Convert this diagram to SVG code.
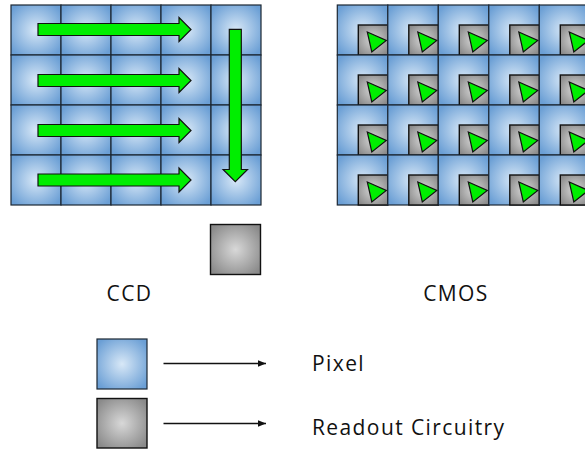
<svg xmlns="http://www.w3.org/2000/svg" xmlns:xlink="http://www.w3.org/1999/xlink" width="585" height="450" viewBox="0 0 585 450">
  <style>
    .pixel { fill: url(#pixelGrad); stroke: #1c2733; stroke-width: 1.2; }
    .readout { fill: url(#readoutGrad); stroke: #111; stroke-width: 1.4; }
    .flow { fill: #00ee00; stroke: #111; stroke-width: 1.2; stroke-linejoin: miter; }
    .label { font-family: "Open Sans", "Liberation Sans", sans-serif; font-size: 21px; letter-spacing: 1.4px; fill: #111; }
    .link { stroke: #111; stroke-width: 1.3; fill: none; }
  </style>
  <defs>
    <radialGradient id="pixelGrad" cx="0.5" cy="0.5" r="0.62">
      <stop offset="0" stop-color="#d8e8f7"/>
      <stop offset="1" stop-color="#6b9fd5"/>
    </radialGradient>
    <radialGradient id="readoutGrad" cx="0.5" cy="0.5" r="0.62">
      <stop offset="0" stop-color="#d8d8d8"/>
      <stop offset="1" stop-color="#8a8a8a"/>
    </radialGradient>
    <marker id="arrowHead" viewBox="0 0 10 8" refX="10" refY="4" markerWidth="8" markerHeight="6.4" markerUnits="userSpaceOnUse" orient="auto">
      <path d="M0,0 L10,4 L0,8 Z" fill="#111"/>
    </marker>
    <!-- CCD pixel cell -->
    <rect id="ccdCell" class="pixel" width="50" height="50"/>
    <!-- CMOS cell: pixel with its own readout block and amplifier -->
    <g id="cmosCell">
      <rect class="pixel" width="50.5" height="50"/>
      <rect class="readout" x="21" y="20" width="29.5" height="30"/>
      <polygon class="flow" points="30,27 49,35.5 34.5,47"/>
    </g>
    <!-- horizontal transfer arrow, tip at origin -->
    <polygon id="hArrow" class="flow" points="-153,-6 -12,-6 -12,-12 0,0 -12,12 -12,6 -153,6"/>
  </defs>

  <!-- CCD sensor -->
  <g id="ccd">
    <g id="ccd-grid">
      <use xlink:href="#ccdCell" x="11" y="5"/><use xlink:href="#ccdCell" x="61" y="5"/><use xlink:href="#ccdCell" x="111" y="5"/><use xlink:href="#ccdCell" x="161" y="5"/><use xlink:href="#ccdCell" x="211" y="5"/>
      <use xlink:href="#ccdCell" x="11" y="55"/><use xlink:href="#ccdCell" x="61" y="55"/><use xlink:href="#ccdCell" x="111" y="55"/><use xlink:href="#ccdCell" x="161" y="55"/><use xlink:href="#ccdCell" x="211" y="55"/>
      <use xlink:href="#ccdCell" x="11" y="105"/><use xlink:href="#ccdCell" x="61" y="105"/><use xlink:href="#ccdCell" x="111" y="105"/><use xlink:href="#ccdCell" x="161" y="105"/><use xlink:href="#ccdCell" x="211" y="105"/>
      <use xlink:href="#ccdCell" x="11" y="155"/><use xlink:href="#ccdCell" x="61" y="155"/><use xlink:href="#ccdCell" x="111" y="155"/><use xlink:href="#ccdCell" x="161" y="155"/><use xlink:href="#ccdCell" x="211" y="155"/>
    </g>
    <g id="ccd-transfer">
      <use xlink:href="#hArrow" x="191" y="29.5"/>
      <use xlink:href="#hArrow" x="191" y="80.5"/>
      <use xlink:href="#hArrow" x="191" y="130.5"/>
      <use xlink:href="#hArrow" x="191" y="180"/>
      <polygon class="flow" points="229.3,29.3 241.3,29.3 241.3,169.5 247.5,169.5 235.3,181.7 223.1,169.5 229.3,169.5"/>
    </g>
    <rect id="ccd-readout" class="readout" x="210.5" y="224.5" width="50" height="50"/>
    <text class="label" x="129.5" y="301" text-anchor="middle">CCD</text>
  </g>

  <!-- CMOS sensor -->
  <g id="cmos">
    <g id="cmos-grid">
      <use xlink:href="#cmosCell" x="337.3" y="5"/><use xlink:href="#cmosCell" x="387.8" y="5"/><use xlink:href="#cmosCell" x="438.3" y="5"/><use xlink:href="#cmosCell" x="488.8" y="5"/><use xlink:href="#cmosCell" x="539.3" y="5"/>
      <use xlink:href="#cmosCell" x="337.3" y="55"/><use xlink:href="#cmosCell" x="387.8" y="55"/><use xlink:href="#cmosCell" x="438.3" y="55"/><use xlink:href="#cmosCell" x="488.8" y="55"/><use xlink:href="#cmosCell" x="539.3" y="55"/>
      <use xlink:href="#cmosCell" x="337.3" y="105"/><use xlink:href="#cmosCell" x="387.8" y="105"/><use xlink:href="#cmosCell" x="438.3" y="105"/><use xlink:href="#cmosCell" x="488.8" y="105"/><use xlink:href="#cmosCell" x="539.3" y="105"/>
      <use xlink:href="#cmosCell" x="337.3" y="155"/><use xlink:href="#cmosCell" x="387.8" y="155"/><use xlink:href="#cmosCell" x="438.3" y="155"/><use xlink:href="#cmosCell" x="488.8" y="155"/><use xlink:href="#cmosCell" x="539.3" y="155"/>
    </g>
    <text class="label" x="456" y="301" text-anchor="middle">CMOS</text>
  </g>

  <!-- legend -->
  <g id="legend-pixel">
    <rect class="pixel" x="97" y="339" width="50" height="50"/>
  </g>
  <g id="legend-readout">
    <rect class="readout" x="97" y="398.5" width="50" height="49.5"/>
  </g>
  <g id="legend-pixel-label">
    <text class="label" x="312" y="371">Pixel</text>
  </g>
  <g id="legend-readout-label">
    <text class="label" x="312" y="435">Readout Circuitry</text>
  </g>
  <g id="connectors">
    <line class="link" x1="163.5" y1="363.5" x2="266" y2="363.5" marker-end="url(#arrowHead)"/>
    <line class="link" x1="163.5" y1="423.5" x2="266" y2="423.5" marker-end="url(#arrowHead)"/>
  </g>
</svg>
